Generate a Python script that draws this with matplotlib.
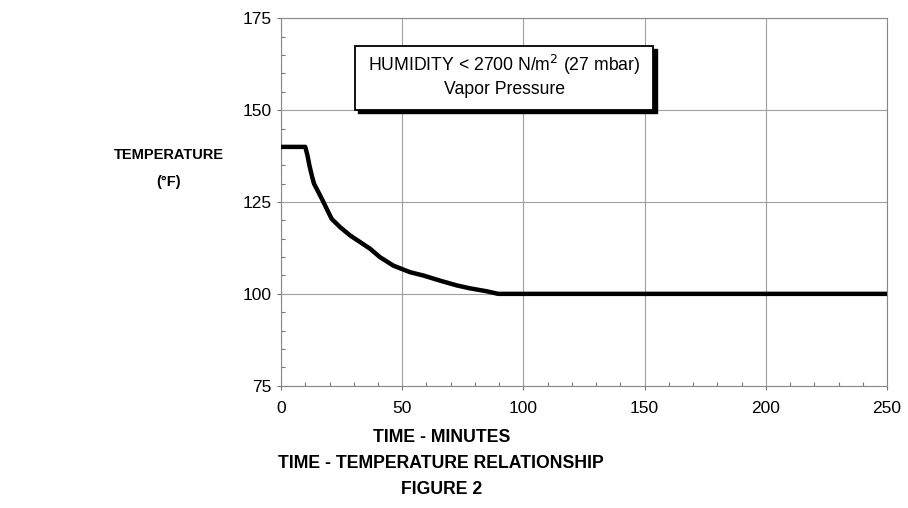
import matplotlib
matplotlib.use("Agg")
import matplotlib.pyplot as plt
from matplotlib.patches import Rectangle
from matplotlib.ticker import MultipleLocator

plt.rcParams['font.family'] = ['Liberation Sans', 'DejaVu Sans']

# Data
time_min = [0, 10, 10.9, 11.7, 12.7, 13.6, 15.4, 17.2, 18.8, 20.9, 24.3, 28.5, 32.6,
            36.7, 40.8, 46.3, 53.2, 58.7, 65.6, 72.5, 78.0, 84.9, 89.6, 250]
temp_f = [140, 140, 137.7, 135.0, 132.2, 130.0, 127.7, 125.4, 123.2, 120.4, 118.2, 115.9, 114.1,
          112.3, 110.0, 107.7, 105.9, 105.0, 103.6, 102.3, 101.5, 100.7, 100.0, 100]
x_ticks = [0, 50, 100, 150, 200, 250]
y_ticks = [75, 100, 125, 150, 175]

fig = plt.figure(figsize=(9.08, 5.08), dpi=100)
ax = fig.add_axes([0.3095, 0.2407, 0.6674, 0.7233])

ax.plot(time_min, temp_f, color='black', linewidth=3.2, solid_capstyle='butt',
        solid_joinstyle='round', zorder=3)

ax.set_xlim(0, 250)
ax.set_ylim(75, 175)
ax.set_xticks(x_ticks)
ax.set_yticks(y_ticks)
ax.xaxis.set_minor_locator(MultipleLocator(10))
ax.yaxis.set_minor_locator(MultipleLocator(5))
ax.tick_params(axis='both', which='major', labelsize=12.5, length=3, width=0.8,
               direction='out', color='#777777', labelcolor='black')
ax.tick_params(axis='y', which='major', pad=4)
ax.tick_params(axis='x', which='major', pad=8)
ax.tick_params(axis='both', which='minor', direction='in', length=3, width=0.8, color='#777777')
ax.grid(True, which='major', color='#a0a0a0', linewidth=0.8)
for s in ax.spines.values():
    s.set_color('#888888')
    s.set_linewidth(0.8)

# Annotation box with shadow
bx0, bx1, by0, by1 = 30.5, 153.5, 150.0, 167.5
ax.add_patch(Rectangle((bx0 + 1.4, by0 - 0.9), bx1 - bx0, by1 - by0,
                       facecolor='black', edgecolor='black', zorder=4))
ax.add_patch(Rectangle((bx0, by0), bx1 - bx0, by1 - by0,
                       facecolor='white', edgecolor='black', linewidth=1.3, zorder=5))
ax.text((bx0 + bx1) / 2, 162.3, r'HUMIDITY < 2700 N/m$^2$ (27 mbar)', ha='center', va='center',
        fontsize=12.7, zorder=6)
ax.text((bx0 + bx1) / 2, 155.6, 'Vapor Pressure', ha='center', va='center',
        fontsize=12.7, zorder=6)

# Y label
fig.text(169 / 908, 1 - 155 / 508, 'TEMPERATURE', ha='center', va='center',
         fontsize=10.5, fontweight='bold')
fig.text(169 / 908, 1 - 182 / 508, '(°F)', ha='center', va='center',
         fontsize=10.5, fontweight='bold')

# Bottom captions
fig.text(442 / 908, 1 - 437 / 508, 'TIME - MINUTES', ha='center', va='center',
         fontsize=12.7, fontweight='bold')
fig.text(441 / 908, 1 - 464 / 508, 'TIME - TEMPERATURE RELATIONSHIP', ha='center', va='center',
         fontsize=12.7, fontweight='bold')
fig.text(442 / 908, 1 - 490 / 508, 'FIGURE 2', ha='center', va='center',
         fontsize=12.7, fontweight='bold')

fig.savefig('out.png', dpi=100)
